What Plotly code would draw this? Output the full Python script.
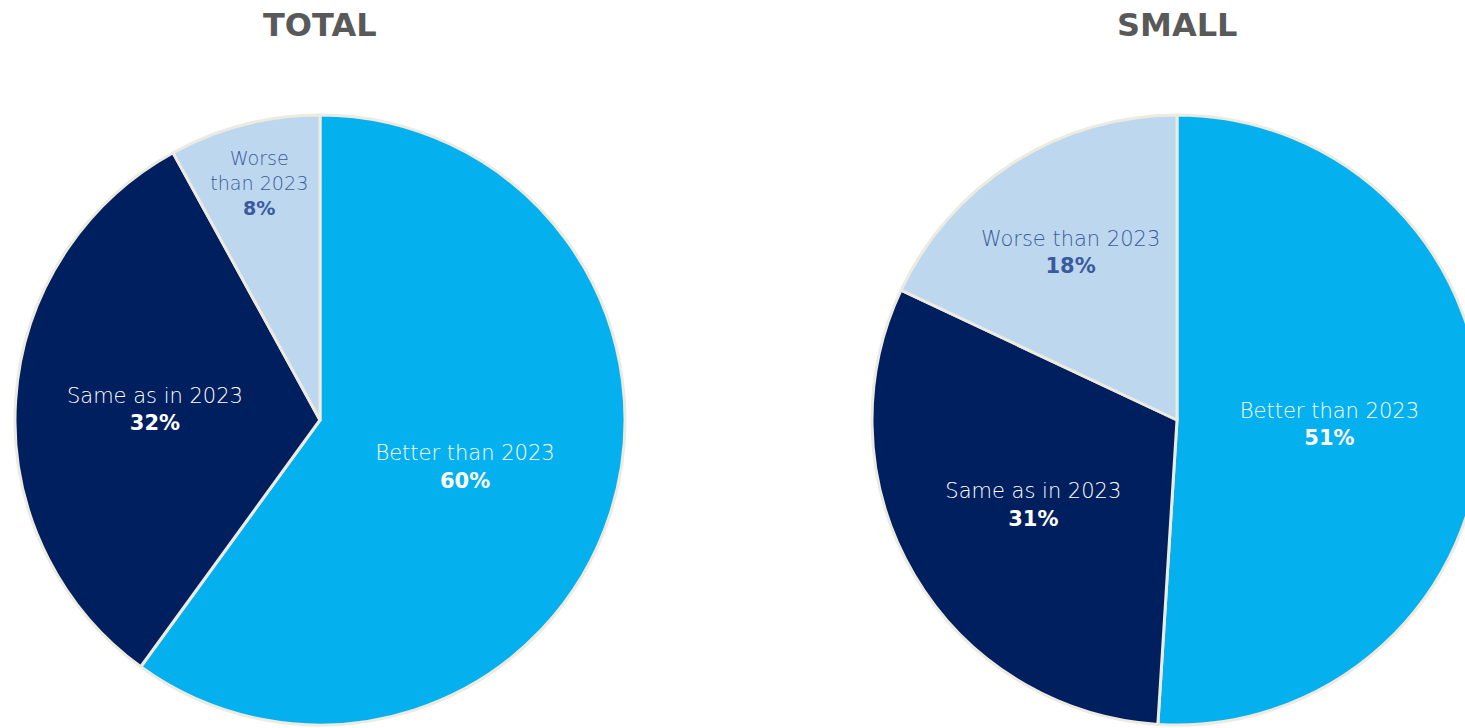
import plotly.graph_objects as go

# survey answers, share of respondents (%)
categories = ["Better than 2023", "Same as in 2023", "Worse than 2023"]
total_values = [60, 32, 8]
small_values = [51, 31, 18]
total_labels = ["Better than 2023", "Same as in 2023", "Worse<br>than 2023"]
small_labels = ["Better than 2023", "Same as in 2023", "Worse than 2023"]

colors = ["#05B0EF", "#001F5E", "#BDD7EE"]
text_colors = ["white", "white", "#3A5A9E"]

W = 1500
H = 728


def pie_trace(values, labels, x0, x1):
    return go.Pie(
        labels=categories,
        values=values,
        text=labels,
        texttemplate="%{text}<br><b>%{value}%</b>",
        textposition="inside",
        insidetextorientation="horizontal",
        sort=False,
        direction="clockwise",
        rotation=0,
        marker=dict(colors=colors, line=dict(color="#EDEAE0", width=3)),
        textfont=dict(family="DejaVu Sans", size=21, color=text_colors, weight=200),
        domain=dict(x=[x0, x1], y=[0, 1]),
        hoverinfo="label+percent",
        showlegend=False,
    )


fig = go.Figure()
fig.add_trace(pie_trace(total_values, total_labels, 15 / W, 625 / W))
fig.add_trace(pie_trace(small_values, small_labels, 872 / W, 1482 / W))

# chart titles
for name, xc in [("TOTAL", 320), ("SMALL", 1177)]:
    fig.add_annotation(
        text="<b>" + name + "</b>",
        x=xc / W, y=1, xref="paper", yref="paper",
        xanchor="center", yanchor="middle", yshift=90, showarrow=False,
        font=dict(family="DejaVu Sans", size=32, color="#595959"),
    )

fig.update_layout(
    width=W,
    height=H,
    autosize=False,
    margin=dict(l=0, r=0, t=115, b=3),
    paper_bgcolor="white",
    plot_bgcolor="white",
)

fig.write_html(
    "out.html",
    config={"displayModeBar": False},
    post_script="document.body.style.overflow='hidden';document.body.style.margin='0';",
)
